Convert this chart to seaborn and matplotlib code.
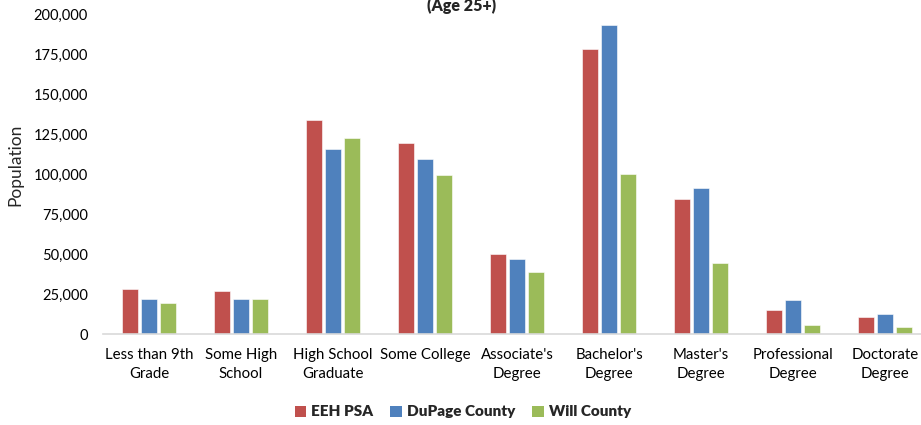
import matplotlib
matplotlib.use("Agg")
import matplotlib.pyplot as plt
import seaborn as sns
import pandas as pd
from matplotlib.ticker import FuncFormatter
from matplotlib.patches import Patch

categories = ["Less than 9th\nGrade", "Some High\nSchool", "High School\nGraduate", "Some College",
              "Associate's\nDegree", "Bachelor's\nDegree", "Master's\nDegree",
              "Professional\nDegree", "Doctorate\nDegree"]
series_names = ["EEH PSA", "DuPage County", "Will County"]
eeh_psa = [28500, 26900, 134100, 119400, 50000, 178200, 84600, 15400, 10800]
dupage = [21900, 21900, 115800, 109800, 47300, 193400, 91200, 21200, 12900]
will = [19400, 22100, 122500, 99600, 38700, 100200, 44400, 6000, 4800]
colors = ["#C0504D", "#4F81BD", "#9BBB59"]
y_ticks = [0, 25000, 50000, 75000, 100000, 125000, 150000, 175000, 200000]

rows = []
for name, vals in zip(series_names, [eeh_psa, dupage, will]):
    for c, v in zip(categories, vals):
        rows.append({"Category": c, "Series": name, "Population": v})
df = pd.DataFrame(rows)

sns.set_theme(style="white")
plt.rcParams["font.family"] = ["Lato", "DejaVu Sans"]

fig = plt.figure(figsize=(9.21, 4.25), dpi=100)
ax = fig.add_axes([103 / 921, 1 - 334.3 / 425, 828 / 921, 320 / 425])

sns.barplot(data=df, x="Category", y="Population", hue="Series", order=categories,
            hue_order=series_names, palette=colors, width=0.62, gap=0.12,
            saturation=1, ax=ax, legend=False, edgecolor="white", linewidth=0.4)

ax.set_ylim(0, 200000)
ax.set_xlim(-0.5, len(categories) - 0.5)
ax.set_yticks(y_ticks)
ax.yaxis.set_major_formatter(FuncFormatter(lambda v, p: f"{int(v):,}"))
ax.tick_params(axis="y", length=0, pad=11, labelsize=10.5, colors="#000000")
ax.tick_params(axis="x", length=0, pad=10, labelsize=10.8, colors="#000000")
ax.set_xlabel("")
ax.set_ylabel("Population", fontsize=12.5, va="center")
ax.yaxis.set_label_coords((15 - 103) / 828, (334.3 - 165) / 320)
for s in ["left", "right", "top"]:
    ax.spines[s].set_visible(False)
ax.spines["bottom"].set_color("#D9D9D9")
ax.spines["bottom"].set_linewidth(1.2)
ax.grid(False)
for lbl in ax.get_xticklabels():
    lbl.set_linespacing(1.45)

fig.text(462 / 921, 1 - 11 / 425, "(Age 25+)", ha="center", va="baseline",
         fontsize=11.5, fontweight="heavy")

handles = [Patch(facecolor=c, edgecolor="none") for c in colors]
fig.legend(handles, series_names, loc="center", bbox_to_anchor=(463 / 921, 1 - 412 / 425),
           ncol=3, frameon=False, handlelength=0.75, handleheight=0.75,
           handletextpad=0.35, columnspacing=1.1, prop={"weight": "heavy", "size": 11})

fig.savefig("out.png", dpi=100)
